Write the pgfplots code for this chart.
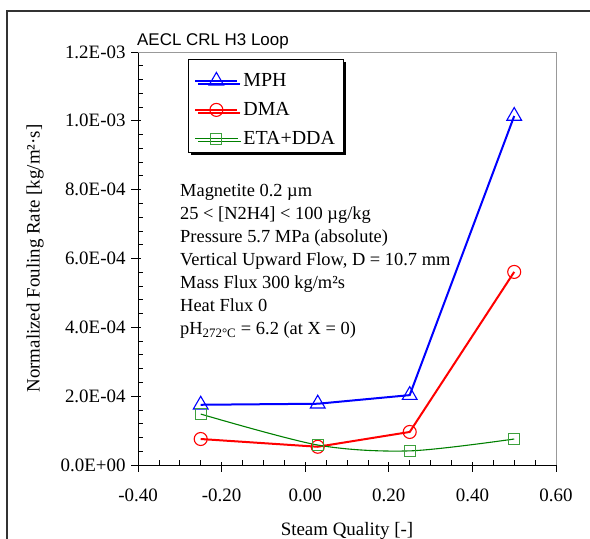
\documentclass[border=0pt]{standalone}
\usepackage{fontspec}
\setmainfont{Liberation Serif}
\newfontfamily\arial{Liberation Sans}
\usepackage{pgfplots}
\pgfplotsset{compat=1.18}
\usetikzlibrary{shadows}

\definecolor{mphblue}{RGB}{0,0,255}
\definecolor{dmared}{RGB}{255,0,0}
\definecolor{etagreen}{RGB}{0,128,0}
\definecolor{etamark}{RGB}{60,160,60}

\begin{document}
\begin{tikzpicture}
\useasboundingbox (0,0) rectangle (590bp,539bp);
% outer frame (only left and top are visible)
\draw[line width=2bp, black!80] (7bp,0) -- (7bp,528bp) -- (590bp,528bp);
\node[anchor=base west, inner sep=0, font=\arial\fontsize{17}{20}\selectfont] at (137bp,493bp) {AECL CRL H3 Loop};

\begin{axis}[
    at={(138bp,74bp)}, anchor=south west,
    scale only axis, width=418bp, height=413bp,
    xmin=-0.4, xmax=0.6, ymin=0, ymax=1.2e-3,
    axis x line*=bottom, axis y line*=left,
    axis line style={-, line width=0.8bp},
    clip=false,
    scaled y ticks=false,
    xtick={-0.4,-0.2,0,0.2,0.4,0.6},
    xticklabels={-0.40,-0.20,0.00,0.20,0.40,0.60},
    ytick={0,2e-4,4e-4,6e-4,8e-4,1e-3,1.2e-3},
    yticklabels={0.0E+00,2.0E-04,4.0E-04,6.0E-04,8.0E-04,1.0E-03,1.2E-03},
    tick align=inside,
    major tick length=3bp, minor tick length=5bp,
    minor x tick num=3, minor y tick num=4,
    tick style={black, line width=0.8bp},
    extra x ticks={-0.4,-0.2,0,0.2,0.4,0.6}, extra x tick labels={},
    extra y ticks={0,2e-4,4e-4,6e-4,8e-4,1e-3,1.2e-3}, extra y tick labels={},
    extra tick style={tick align=outside, major tick length=7bp},
    tick label style={font=\fontsize{19}{23}\selectfont},
    xticklabel style={yshift=-20bp},
    yticklabel style={xshift=-9bp},
    xlabel={Steam Quality [-]},
    ylabel={Normalized Fouling Rate [kg/m²·s]},
    label style={font=\fontsize{19}{23}\selectfont},
    xlabel style={at={(axis description cs:0.5,-0.159)}, anchor=center},
    ylabel style={at={(axis description cs:-0.2464,0.5)}, anchor=center},
    legend style={
        at={(axis description cs:0.1196,0.983)}, anchor=north west,
        font=\fontsize{20}{24}\selectfont,
        draw=black, line width=0.8bp, fill=white,
        drop shadow={shadow xshift=3bp, shadow yshift=-3bp, fill=black, opacity=1},
        row sep=6bp, inner sep=6bp,
        /tikz/every odd column/.append style={column sep=3bp},
        /tikz/every even column/.append style={nodes={text height=19bp, text depth=0bp}},
    },
    legend cell align=left,
    legend image code/.code={
        \draw[mark repeat=2, mark phase=2, #1] plot coordinates {(0bp,-4bp) (21bp,-4bp) (42bp,-4bp)};
    },
]

\draw[gray!80, line width=0.8bp] (rel axis cs:0,1) -- (rel axis cs:1,1) -- (rel axis cs:1,0);

\addplot[color=mphblue, line width=2bp, mark=triangle, mark size=8.5bp,
    mark options={line width=1.1bp, fill=none}]
    coordinates {(-0.25,1.75e-4) (0.03,1.78e-4) (0.25,2.03e-4) (0.50,1.014e-3)};

\addplot[color=dmared, line width=2bp, mark=o, mark size=6.5bp,
    mark options={line width=1.1bp, fill=none}]
    coordinates {(-0.25,0.755e-4) (0.03,0.53e-4) (0.25,0.96e-4) (0.50,5.61e-4)};

\addplot[color=etagreen, line width=1.1bp, smooth, mark=square, mark size=5.5bp,
    mark options={color=etamark, line width=1.1bp, fill=none}]
    coordinates {(-0.25,1.48e-4) (0.03,0.58e-4) (0.25,0.41e-4) (0.50,0.755e-4)};

\legend{MPH, DMA, ETA+DDA}
\end{axis}

\begin{scope}[every node/.style={anchor=base west, inner sep=0, font=\fontsize{18.5}{22}\selectfont}]
\node at (180bp,342bp) {Magnetite 0.2 µm};
\node at (180bp,319bp) {25 < [N2H4] < 100 µg/kg};
\node at (180bp,296bp) {Pressure 5.7 MPa (absolute)};
\node at (180bp,273bp) {Vertical Upward Flow, D = 10.7 mm};
\node at (180bp,250bp) {Mass Flux 300 kg/m²s};
\node at (180bp,227bp) {Heat Flux 0};
\node at (180bp,204bp) {pH\textsubscript{272°C} = 6.2 (at X = 0)};
\end{scope}
\end{tikzpicture}
\end{document}
